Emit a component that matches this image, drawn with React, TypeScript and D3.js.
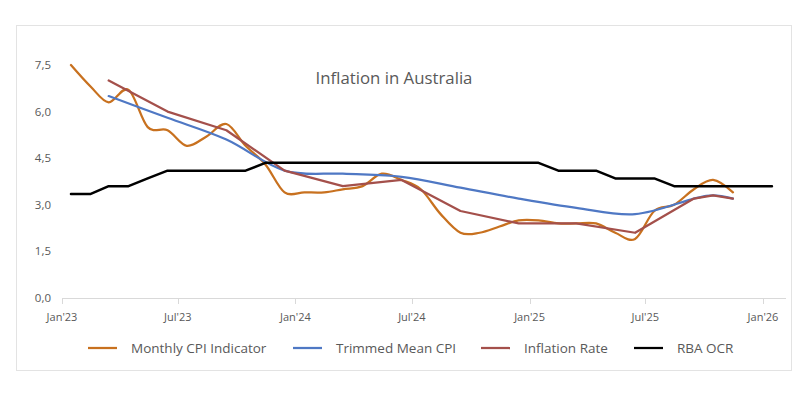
import React from 'react';
import * as d3 from 'd3';

document.body.style.margin = '0';

// month keys, plotted mid-month like the source sheet
const cpiMonths = [
  '2023-01', '2023-02', '2023-03', '2023-04', '2023-05', '2023-06', '2023-07', '2023-08', '2023-09', '2023-10', '2023-11', '2023-12',
  '2024-01', '2024-02', '2024-03', '2024-04', '2024-05', '2024-06', '2024-07', '2024-08', '2024-09', '2024-10', '2024-11', '2024-12',
  '2025-01', '2025-02', '2025-03', '2025-04', '2025-05', '2025-06', '2025-07', '2025-08', '2025-09', '2025-10', '2025-11',
];
const monthlyCpi = [
  7.5, 6.8, 6.3, 6.7, 5.5, 5.4, 4.9, 5.2, 5.6, 4.9, 4.3, 3.4,
  3.4, 3.4, 3.5, 3.6, 4.0, 3.8, 3.5, 2.7, 2.1, 2.1, 2.3, 2.5,
  2.5, 2.4, 2.4, 2.4, 2.1, 1.9, 2.8, 3.0, 3.5, 3.8, 3.4,
];

const quarterMonths = [
  '2023-03', '2023-06', '2023-09', '2023-12', '2024-03', '2024-06', '2024-09', '2024-12',
  '2025-03', '2025-06', '2025-09', '2025-10', '2025-11',
];
const trimmedMean = [6.5, 5.8, 5.1, 4.1, 4.0, 3.9, 3.55, 3.2, 2.9, 2.7, 3.2, 3.3, 3.2];
const inflationRate = [7.0, 6.0, 5.4, 4.1, 3.6, 3.8, 2.8, 2.4, 2.4, 2.1, 3.2, 3.3, 3.2];

const ocrMonths = [...cpiMonths, '2025-12', '2026-01'];
const rbaOcr = [
  3.35, 3.35, 3.6, 3.6, 3.85, 4.1, 4.1, 4.1, 4.1, 4.1, 4.35, 4.35,
  4.35, 4.35, 4.35, 4.35, 4.35, 4.35, 4.35, 4.35, 4.35, 4.35, 4.35, 4.35,
  4.35, 4.1, 4.1, 4.1, 3.85, 3.85, 3.85, 3.6, 3.6, 3.6, 3.6, 3.6,
  3.6,
];

const yTicks = [0, 1.5, 3.0, 4.5, 6.0, 7.5];

const series = [
  { name: 'Monthly CPI Indicator', color: '#c8711f', months: cpiMonths, values: monthlyCpi, smooth: true, width: 2.25 },
  { name: 'Trimmed Mean CPI', color: '#4f78c4', months: quarterMonths, values: trimmedMean, smooth: true, width: 2.25 },
  { name: 'Inflation Rate', color: '#a4504b', months: quarterMonths, values: inflationRate, smooth: false, width: 2.25 },
  { name: 'RBA OCR', color: '#000000', months: ocrMonths, values: rbaOcr, smooth: false, width: 2.5 },
];

const legendX = [88, 293, 481, 634];

const font = "'Open Sans', 'DejaVu Sans', sans-serif";
const textColor = '#595959';

const parseMonth = (m: string) => {
  const [y, mo] = m.split('-').map(Number);
  return new Date(y, mo - 1, 15);
};

const locale = d3.formatLocale({ decimal: ',', thousands: '.', grouping: [3], currency: ['', '€'] });
const fmt = locale.format('.1f');

export default function App() {
  const width = 812;
  const height = 394;

  const x = d3.scaleTime()
    .domain([new Date(2023, 0, 1), new Date(2026, 0, 1)])
    .range([62, 763]);
  const y = d3.scaleLinear().domain([0, 7.5]).range([298, 65]);

  const xTicks = d3.timeMonth.range(new Date(2023, 0, 1), new Date(2026, 0, 2), 6);
  const xFmt = d3.timeFormat("%b'%y");

  return (
    <svg width={width} height={height} style={{ display: 'block', fontFamily: font }}>
      <rect x={0} y={0} width={width} height={height} fill="#ffffff" />
      <rect x={16.5} y={25.5} width={775} height={345} fill="#ffffff" stroke="#e3e3e3" />

      <text x={394} y={84} textAnchor="middle" fontSize={16.8} fill={textColor}>
        Inflation in Australia
      </text>

      {/* y axis labels */}
      {yTicks.map(t => (
        <text key={t} x={51} y={y(t)} dy="0.35em" textAnchor="end" fontSize={11.5} fill={textColor}>
          {fmt(t)}
        </text>
      ))}

      {/* x axis */}
      <line x1={62} x2={786} y1={298.5} y2={298.5} stroke="#d9d9d9" strokeWidth={1} />
      {xTicks.map(t => (
        <g key={t.getTime()}>
          <line x1={Math.round(x(t)) + 0.5} x2={Math.round(x(t)) + 0.5} y1={298} y2={304} stroke="#d9d9d9" />
          <text x={x(t)} y={321} textAnchor="middle" fontSize={11} fill={textColor}>
            {xFmt(t)}
          </text>
        </g>
      ))}

      {/* series */}
      {series.map(s => {
        const pts: [number, number][] = s.months.map((m, i) => [x(parseMonth(m)), y(s.values[i])]);
        const line = d3.line<[number, number]>()
          .x(d => d[0])
          .y(d => d[1])
          .curve(s.smooth ? d3.curveCardinal.tension(0) : d3.curveLinear);
        return (
          <path key={s.name} d={line(pts) || ''} fill="none" stroke={s.color}
            strokeWidth={s.width} strokeLinejoin="round" strokeLinecap="round" />
        );
      })}

      {/* legend */}
      {series.map((s, i) => (
        <g key={s.name} transform={`translate(${legendX[i]},348)`}>
          <line x1={0} x2={29} y1={0} y2={0} stroke={s.color} strokeWidth={2.25} />
          <text x={43} y={0} dy="0.35em" fontSize={13.5} fill={textColor}>{s.name}</text>
        </g>
      ))}
    </svg>
  );
}
